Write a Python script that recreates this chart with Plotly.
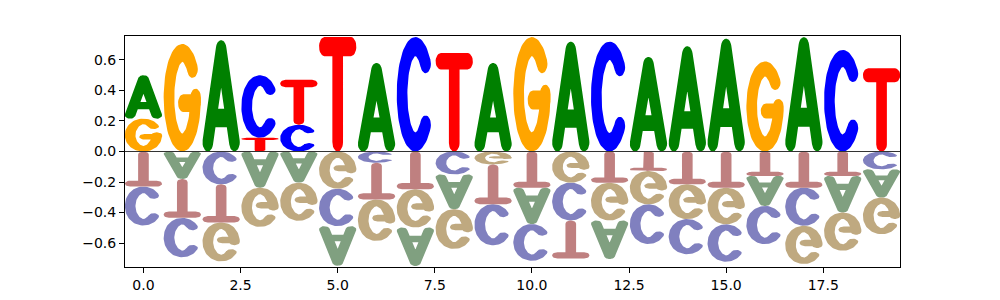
import numpy as np
import plotly.graph_objects as go

# ---- data (saliency-like matrix, one value per base per position) ----
positions = list(range(20))
A = [0.285, -0.18, 0.73, -0.237, -0.204, -0.26, 0.58, -0.252, -0.228, 0.58,
     -0.239, 0.72, -0.253, 0.62, 0.69, 0.74, -0.197, 0.75, -0.24, -0.185]
C = [-0.255, -0.258, -0.215, 0.41, 0.175, -0.245, -0.074, 0.75, -0.15, -0.27,
     -0.24, -0.248, 0.72, -0.26, -0.23, -0.245, -0.25, -0.25, 0.665, -0.117]
G = [0.215, 0.705, -0.255, -0.257, -0.25, -0.244, -0.272, -0.25, -0.26, -0.085,
     0.75, -0.204, -0.248, -0.218, -0.228, -0.24, 0.59, -0.25, -0.25, -0.24]
T = [-0.23, -0.255, -0.25, 0.09, 0.295, 0.75, -0.24, -0.248, 0.645, -0.26,
     -0.237, -0.25, -0.204, -0.128, -0.215, -0.237, -0.16, -0.237, -0.16, 0.545]
bases = ["A", "C", "G", "T"]
values = {"A": A, "C": C, "G": G, "T": T}

x_ticks = [0, 2.5, 5, 7.5, 10, 12.5, 15, 17.5]
x_ticktext = ["0.0", "2.5", "5.0", "7.5", "10.0", "12.5", "15.0", "17.5"]
y_ticks = [-0.6, -0.4, -0.2, 0.0, 0.2, 0.4, 0.6]
y_ticktext = ["\u22120.6", "\u22120.4", "\u22120.2", "0.0", "0.2", "0.4", "0.6"]

pos_colors = {"A": "#008000", "C": "#0000ff", "G": "#ffa500", "T": "#ff0000"}
neg_colors = {"A": "#80a080", "C": "#8080bf", "G": "#bfa980", "T": "#bf8080"}

# ---- glyph outlines in a design box (stroke thickness = 1) ----
U, V, R = 3.5, 6.0, 0.5


def circle(cx, cy, r=R, n=28):
    t = np.linspace(0, 2 * np.pi, n, endpoint=False)
    return list(zip(cx + r * np.cos(t), cy + r * np.sin(t)))


def capsule(p, q, r=R, n=14):
    (x1, y1), (x2, y2) = p, q
    ang = np.arctan2(y2 - y1, x2 - x1)
    t1 = np.linspace(ang - np.pi / 2, ang + np.pi / 2, n)
    t2 = np.linspace(ang + np.pi / 2, ang + 3 * np.pi / 2, n)
    return ([(x2 + r * np.cos(t), y2 + r * np.sin(t)) for t in t1] +
            [(x1 + r * np.cos(t), y1 + r * np.sin(t)) for t in t2])


def arc_band(cx, cy, a, b, th1, th2, r=R, n=70):
    th = np.radians(np.linspace(th1, th2, n))
    px, py = cx + a * np.cos(th), cy + b * np.sin(th)
    nx, ny = b * np.cos(th), a * np.sin(th)
    nn = np.hypot(nx, ny)
    nx, ny = nx / nn, ny / nn
    outer = list(zip(px + r * nx, py + r * ny))
    inner = list(zip(px - r * nx, py - r * ny))[::-1]
    return [outer + inner, circle(px[0], py[0]), circle(px[-1], py[-1])]


def glyph_T():
    return [capsule((R, V - R), (U - R, V - R)), capsule((U / 2, R), (U / 2, V - R))]


def glyph_A():
    apex = (U / 2, V - R)
    vb = 0.30 * V
    f = (vb - R) / (V - 2 * R)
    lx = R + (U / 2 - R) * f
    rx = U - lx
    return [capsule((R, R), apex), capsule((U - R, R), apex), capsule((lx, vb), (rx, vb))]


def glyph_C():
    return arc_band(U / 2, V / 2, U / 2 - R, V / 2 - R, 40, 320)


def glyph_G():
    polys = arc_band(U / 2, V / 2, U / 2 - R, V / 2 - R, 40, 360)
    vb = 0.45 * V
    polys.append(capsule((U / 2 + 0.1, vb), (U - R, vb)))
    polys.append(capsule((U - R, vb), (U - R, V / 2)))
    return polys


GLYPHS = {"A": glyph_A(), "C": glyph_C(), "G": glyph_G(), "T": glyph_T()}
WIDTH = 0.96

traces = {}
for sign in ("pos", "neg"):
    for b in bases:
        traces[(sign, b)] = ([], [])

for i, p in enumerate(positions):
    col = [(b, values[b][i]) for b in bases]
    pos = sorted([c for c in col if c[1] > 0], key=lambda c: c[1])
    neg = sorted([c for c in col if c[1] < 0], key=lambda c: -c[1])
    base = 0.0
    for b, v in pos:
        y0, y1 = base, base + v
        xs, ys = traces[("pos", b)]
        for poly in GLYPHS[b]:
            for (u, w) in poly:
                xs.append(p - WIDTH / 2 + u / U * WIDTH)
                ys.append(y0 + w / V * (y1 - y0))
            xs.append(None)
            ys.append(None)
        base = y1
    base = 0.0
    for b, v in neg:
        yt, yb = base, base + v
        xs, ys = traces[("neg", b)]
        for poly in GLYPHS[b]:
            for (u, w) in poly:
                xs.append(p - WIDTH / 2 + u / U * WIDTH)
                ys.append(yt - w / V * (yt - yb))
            xs.append(None)
            ys.append(None)
        base = yb

fig = go.Figure()
for (sign, b), (xs, ys) in traces.items():
    color = pos_colors[b] if sign == "pos" else neg_colors[b]
    fig.add_trace(go.Scatter(x=xs, y=ys, mode="lines", fill="toself",
                             fillcolor=color, line=dict(width=0, color=color),
                             hoverinfo="skip", showlegend=False))

fig.add_shape(type="line", x0=-0.475, x1=19.475, y0=0, y1=0,
              line=dict(color="#333333", width=1), layer="above")

font = dict(family="DejaVu Sans", size=14, color="black")
axis_common = dict(showline=True, mirror=True, linecolor="black", linewidth=1,
                   ticks="outside", ticklen=5, tickwidth=1, tickcolor="black",
                   showgrid=False, zeroline=False, tickfont=font, automargin=False)
fig.update_layout(
    width=1000, height=300,
    margin=dict(l=125, r=100, t=36, b=33),
    paper_bgcolor="white", plot_bgcolor="white",
    xaxis=dict(range=[-0.475, 19.475], tickvals=x_ticks, ticktext=x_ticktext, **axis_common),
    yaxis=dict(range=[-0.757, 0.757], tickvals=y_ticks, ticktext=y_ticktext, **axis_common),
)
fig.write_html("out.html")
